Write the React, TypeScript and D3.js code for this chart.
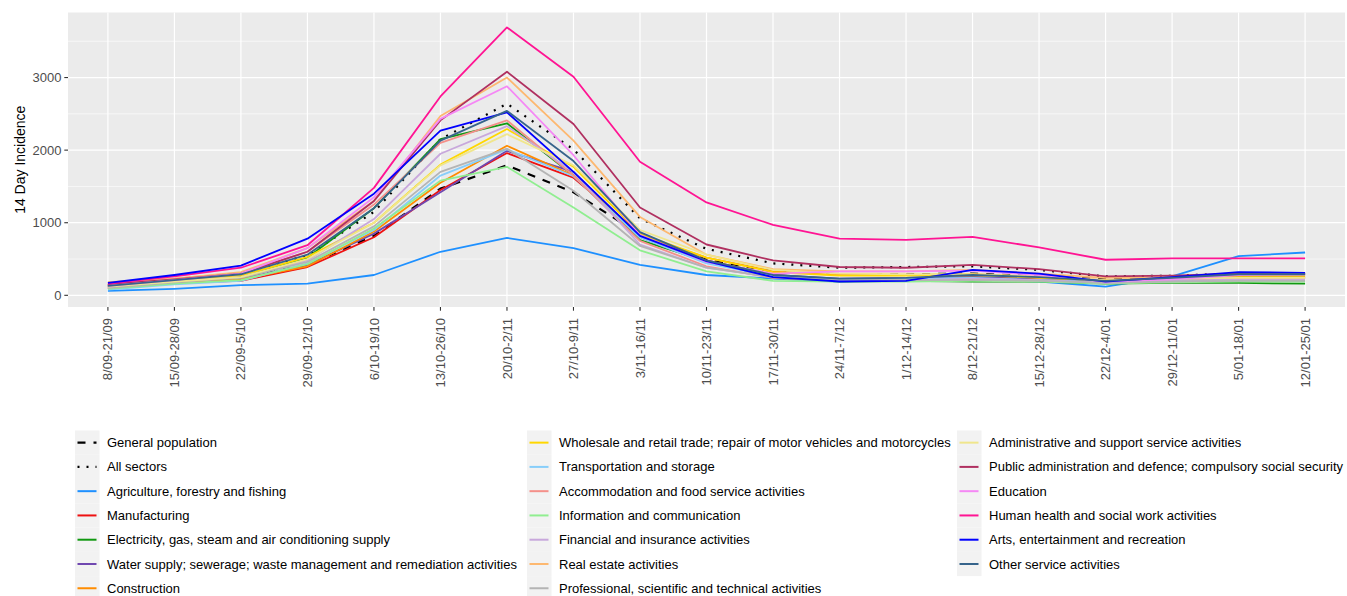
import * as d3 from "d3";

// fortnight windows on the x axis
const periods = [
  "8/09-21/09", "15/09-28/09", "22/09-5/10", "29/09-12/10", "6/10-19/10",
  "13/10-26/10", "20/10-2/11", "27/10-9/11", "3/11-16/11", "10/11-23/11",
  "17/11-30/11", "24/11-7/12", "1/12-14/12", "8/12-21/12", "15/12-28/12",
  "22/12-4/01", "29/12-11/01", "5/01-18/01", "12/01-25/01",
];

const yTicks = [0, 1000, 2000, 3000];
const yMinor = [500, 1500, 2500, 3500];

// 14 day incidence per series
const generalPopulation = [130, 190, 240, 420, 820, 1470, 1790, 1420, 840, 490, 330, 290, 290, 300, 260, 220, 230, 260, 260];
const allSectors = [140, 220, 300, 550, 1150, 2150, 2640, 2010, 1060, 640, 440, 380, 390, 400, 350, 260, 270, 300, 290];
const agriculture = [60, 90, 140, 160, 280, 600, 790, 650, 420, 280, 230, 190, 220, 220, 190, 120, 260, 540, 590];
const manufacturing = [110, 170, 200, 390, 800, 1450, 1960, 1620, 850, 480, 280, 220, 230, 250, 220, 200, 220, 250, 240];
const electricity = [120, 200, 260, 520, 1200, 2150, 2370, 1650, 760, 470, 250, 190, 200, 190, 190, 160, 170, 170, 160];
const waterSupply = [90, 170, 230, 420, 850, 1420, 1990, 1700, 800, 450, 280, 230, 240, 250, 220, 180, 220, 250, 260];
const construction = [100, 170, 220, 400, 880, 1550, 2060, 1650, 830, 520, 330, 280, 280, 290, 250, 210, 240, 270, 270];
const wholesale = [130, 200, 270, 530, 1000, 1800, 2290, 1770, 850, 520, 320, 270, 270, 280, 240, 200, 230, 250, 250];
const transportation = [80, 150, 200, 440, 900, 1650, 2010, 1640, 800, 440, 260, 220, 230, 240, 210, 180, 210, 240, 240];
const accommodation = [150, 230, 300, 600, 1250, 2100, 2410, 1650, 750, 400, 240, 200, 200, 220, 200, 170, 200, 230, 230];
const information = [90, 160, 210, 430, 920, 1580, 1770, 1210, 620, 330, 200, 190, 190, 200, 190, 160, 180, 190, 190];
const financial = [110, 190, 250, 480, 1050, 1950, 2330, 1700, 700, 380, 250, 210, 210, 230, 210, 170, 200, 220, 220];
const realEstate = [180, 230, 320, 650, 1300, 2470, 3000, 2130, 1080, 560, 360, 330, 330, 350, 300, 240, 250, 280, 280];
const professional = [100, 180, 240, 460, 950, 1700, 2020, 1440, 680, 380, 250, 210, 210, 210, 200, 170, 190, 200, 200];
const administrative = [120, 190, 250, 500, 1000, 1790, 2220, 1790, 900, 560, 350, 300, 290, 290, 260, 210, 230, 240, 240];
const publicAdmin = [150, 220, 300, 600, 1300, 2410, 3080, 2360, 1210, 700, 480, 390, 380, 420, 360, 260, 270, 300, 300];
const education = [130, 210, 300, 650, 1350, 2430, 2880, 1930, 830, 460, 300, 330, 330, 340, 280, 190, 220, 280, 290];
const humanHealth = [160, 260, 380, 690, 1480, 2740, 3690, 3010, 1840, 1280, 970, 780, 765, 805, 660, 490, 510, 510, 510];
const arts = [170, 280, 410, 780, 1400, 2270, 2520, 1700, 820, 470, 250, 190, 200, 350, 300, 190, 250, 320, 310];
const otherService = [130, 210, 290, 560, 1200, 2130, 2540, 1850, 870, 480, 280, 230, 240, 280, 250, 200, 240, 290, 290];

const seriesNames = [
  "General population",
  "All sectors",
  "Agriculture, forestry and fishing",
  "Manufacturing",
  "Electricity, gas, steam and air conditioning supply",
  "Water supply; sewerage; waste management and remediation activities",
  "Construction",
  "Wholesale and retail trade; repair of motor vehicles and motorcycles",
  "Transportation and storage",
  "Accommodation and food service activities",
  "Information and communication",
  "Financial and insurance activities",
  "Real estate activities",
  "Professional, scientific and technical activities",
  "Administrative and support service activities",
  "Public administration and defence; compulsory social security",
  "Education",
  "Human health and social work activities",
  "Arts, entertainment and recreation",
  "Other service activities",
];

const seriesValues = [
  generalPopulation, allSectors, agriculture, manufacturing, electricity,
  waterSupply, construction, wholesale, transportation, accommodation,
  information, financial, realEstate, professional, administrative,
  publicAdmin, education, humanHealth, arts, otherService,
];

const seriesColours = [
  "#000000", "#000000", "#1E90FF", "#EE1111", "#119911", "#7048B0",
  "#FF8C00", "#FFD700", "#87CEFA", "#F4908A", "#90EE90", "#C8A8DC",
  "#FDB870", "#B4B4B4", "#F0E68C", "#B03060", "#F588F5", "#FF1493",
  "#0000FF", "#36648B",
];

// dashed for general population, dotted for all sectors
const seriesDash = ["8,8", "2,7"];

const width = 1347;
const height = 596;
const panel = { left: 68, right: 1345, top: 12.5, bottom: 307 };
const font = "'Liberation Sans', Arial, sans-serif";

export default function App() {
  const x = d3
    .scalePoint<string>()
    .domain(periods)
    .range([panel.left, panel.right])
    .padding(0.6);

  const y = d3
    .scaleLinear()
    .domain([-161, 3896])
    .range([panel.bottom, panel.top]);

  const line = d3
    .line<number>()
    .x((_, i) => x(periods[i]) as number)
    .y((d) => y(d));

  // legend: three columns, filled column by column
  const legendCols = [75, 527, 957];
  const legendTop = 430.5;
  const rowH = 24.27;
  const keyW = 24.5;

  return (
    <svg
      width={width}
      height={height}
      style={{ position: "absolute", left: 0, top: 0, background: "#fff" }}
      fontFamily={font}
    >
      <rect x={panel.left} y={panel.top} width={panel.right - panel.left} height={panel.bottom - panel.top} fill="#EBEBEB" />

      {yMinor.map((t) => (
        <line key={"m" + t} x1={panel.left} x2={panel.right} y1={y(t)} y2={y(t)} stroke="#fff" strokeWidth={0.6} />
      ))}
      {yTicks.map((t) => (
        <line key={"g" + t} x1={panel.left} x2={panel.right} y1={y(t)} y2={y(t)} stroke="#fff" strokeWidth={1.2} />
      ))}
      {periods.map((p) => (
        <line key={"v" + p} x1={x(p)} x2={x(p)} y1={panel.top} y2={panel.bottom} stroke="#fff" strokeWidth={1.2} />
      ))}

      {seriesValues.map((vals, i) => (
        <path
          key={seriesNames[i]}
          d={line(vals) ?? ""}
          fill="none"
          stroke={seriesColours[i]}
          strokeWidth={i < 2 ? 2.2 : 1.8}
          strokeDasharray={i < 2 ? seriesDash[i] : undefined}
          strokeLinejoin="round"
        />
      ))}

      {/* y axis */}
      {yTicks.map((t) => (
        <g key={"yt" + t}>
          <line x1={panel.left - 3.7} x2={panel.left} y1={y(t)} y2={y(t)} stroke="#333" strokeWidth={1.1} />
          <text x={61.5} y={y(t)} dy="0.35em" textAnchor="end" fontSize={13} fill="#4D4D4D">
            {t}
          </text>
        </g>
      ))}
      <text
        transform={`translate(25, ${(panel.top + panel.bottom) / 2}) rotate(-90)`}
        textAnchor="middle"
        fontSize={14}
        fill="#000"
      >
        14 Day Incidence
      </text>

      {/* x axis */}
      {periods.map((p) => (
        <g key={"xt" + p}>
          <line x1={x(p)} x2={x(p)} y1={panel.bottom} y2={panel.bottom + 3.7} stroke="#333" strokeWidth={1.1} />
          <text
            transform={`translate(${x(p)}, 318) rotate(-90)`}
            dy="0.35em"
            textAnchor="end"
            fontSize={13}
            fill="#4D4D4D"
          >
            {p}
          </text>
        </g>
      ))}

      {/* legend */}
      {seriesNames.map((name, i) => {
        const col = Math.floor(i / 7);
        const row = i % 7;
        const kx = legendCols[col];
        const ky = legendTop + row * rowH;
        return (
          <g key={"lg" + name}>
            <rect x={kx} y={ky} width={keyW} height={rowH} fill="#F2F2F2" />
            <line
              x1={kx + 2.5}
              x2={kx + keyW - 3}
              y1={ky + rowH / 2}
              y2={ky + rowH / 2}
              stroke={seriesColours[i]}
              strokeWidth={i < 2 ? 2.2 : 2}
              strokeDasharray={i < 2 ? seriesDash[i] : undefined}
            />
            <text x={kx + keyW + 7.5} y={ky + rowH / 2} dy="0.35em" fontSize={13} fill="#000">
              {name}
            </text>
          </g>
        );
      })}
    </svg>
  );
}
